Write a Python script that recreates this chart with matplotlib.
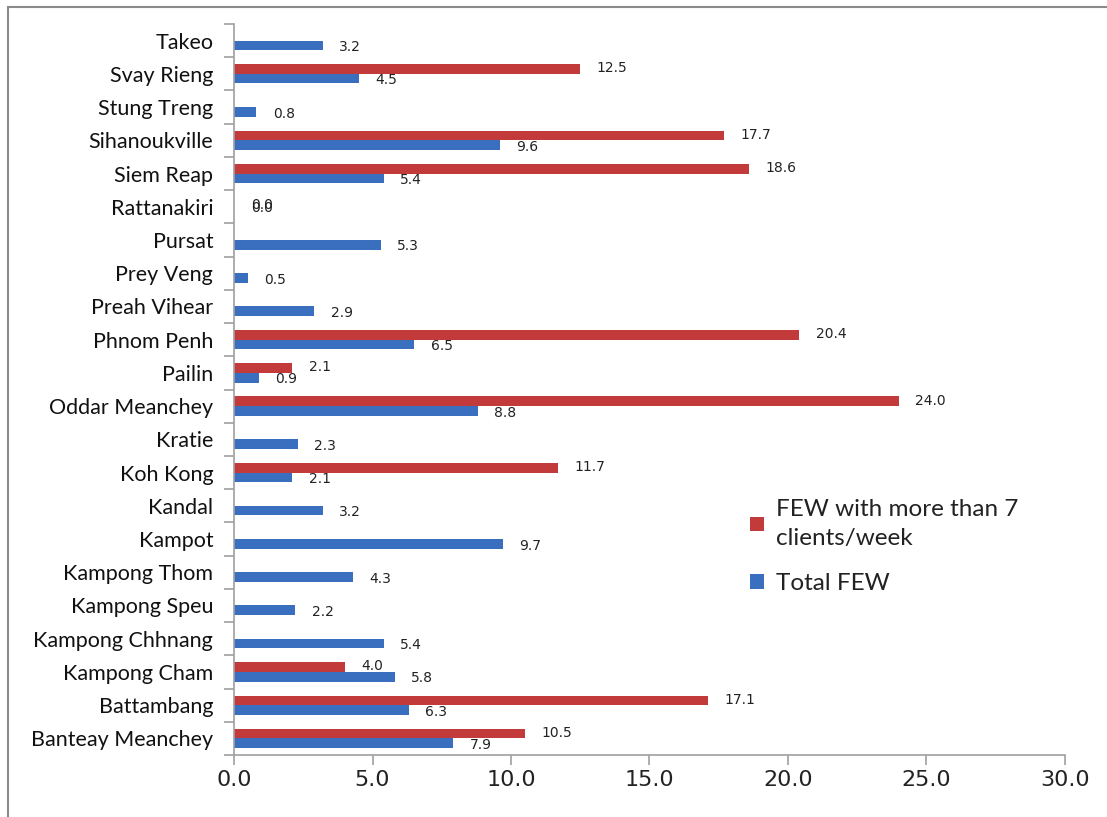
import numpy as np
import matplotlib
matplotlib.use("Agg")
import matplotlib.pyplot as plt
from matplotlib.patches import Rectangle

# provinces, bottom to top
provinces = ["Banteay Meanchey", "Battambang", "Kampong Cham", "Kampong Chhnang",
             "Kampong Speu", "Kampong Thom", "Kampot", "Kandal", "Koh Kong",
             "Kratie", "Oddar Meanchey", "Pailin", "Phnom Penh", "Preah Vihear",
             "Prey Veng", "Pursat", "Rattanakiri", "Siem Reap", "Sihanoukville",
             "Stung Treng", "Svay Rieng", "Takeo"]
total_few = [7.9, 6.3, 5.8, 5.4, 2.2, 4.3, 9.7, 3.2, 2.1, 2.3, 8.8, 0.9, 6.5,
             2.9, 0.5, 5.3, 0.0, 5.4, 9.6, 0.8, 4.5, 3.2]
few_gt7 = [10.5, 17.1, 4.0, np.nan, np.nan, np.nan, np.nan, np.nan, 11.7,
           np.nan, 24.0, 2.1, 20.4, np.nan, np.nan, np.nan, 0.0, 18.6, 17.7,
           np.nan, 12.5, np.nan]
xticks = [0, 5, 10, 15, 20, 25, 30]

red = "#C23B3A"
blue = "#3A6FC0"
grey = "#A0A0A0"

fig = plt.figure(figsize=(11.07, 8.17), dpi=100)
# outer chart border (only top and left edges fall inside the image)
fig.patches.append(Rectangle((0.0072, -0.05), 1.1, 1.0414, transform=fig.transFigure,
                             fill=False, edgecolor="#8A8A8A", lw=1.5))
ax = fig.add_axes([0.2114, 0.0759, 0.7506, 0.8947])

y = np.arange(len(provinces))
h = 0.29
ax.barh(y - h / 2, total_few, height=h, color=blue, label="Total FEW")
ax.barh(y + h / 2, few_gt7, height=h, color=red,
        label="FEW with more than 7\nclients/week")

for yi, v in zip(y, total_few):
    dy = -0.04 if v == 0 else -h / 2 - 0.05
    ax.text(v + 0.6, yi + dy, f"{v:.1f}", va="center", ha="left",
            fontsize=10, color="#222222")
for yi, v in zip(y, few_gt7):
    if not np.isnan(v):
        dy = 0.04 if v == 0 else h / 2 + 0.02
        ax.text(v + 0.6, yi + dy, f"{v:.1f}", va="center", ha="left",
                fontsize=10, color="#222222")

ax.set_xlim(0, 30)
ax.set_ylim(-0.5, len(provinces) - 0.5)
ax.set_xticks(xticks)
ax.set_xticklabels([f"{t:.1f}" for t in xticks], fontsize=16, color="#222222")
ax.set_yticks(y)
ax.set_yticklabels(provinces, fontsize=15.5, family="Lato", color="#111111")
ax.set_yticks(np.arange(len(provinces) + 1) - 0.5, minor=True)
ax.tick_params(axis="y", which="major", length=0, pad=15)
ax.tick_params(axis="y", which="minor", length=7, color=grey, width=1.2)
ax.tick_params(axis="x", length=7, color=grey, width=1.2, pad=4)

for s in ["top", "right"]:
    ax.spines[s].set_visible(False)
for s in ["left", "bottom"]:
    ax.spines[s].set_color(grey)
    ax.spines[s].set_linewidth(1.2)

handles, labels = ax.get_legend_handles_labels()
leg = ax.legend(handles[::-1], labels[::-1], loc="upper left",
                bbox_to_anchor=(0.595, 0.38), frameon=False,
                prop={"family": "Lato", "size": 17.5}, handlelength=0.55,
                handleheight=0.55, handletextpad=0.5, labelspacing=1.0)
for t in leg.get_texts():
    t.set_linespacing(1.45)
    t.set_color("#222222")

fig.savefig("out.png", dpi=100)
